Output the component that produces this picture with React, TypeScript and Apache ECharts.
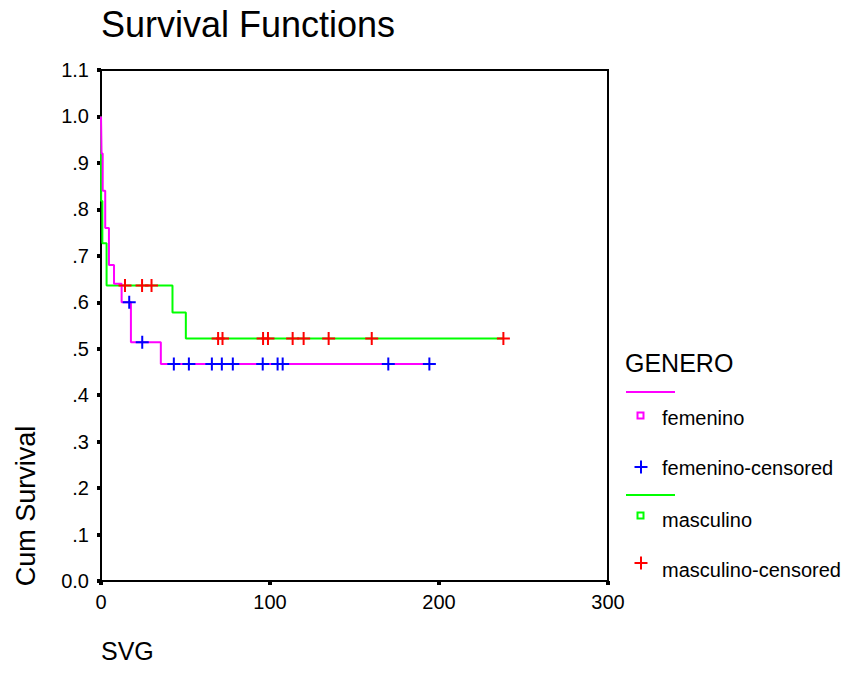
import React, { useEffect, useRef } from "react";
import * as echarts from "echarts";

const FONT = "'Liberation Sans', Arial, sans-serif";

// Kaplan-Meier step points (time, cumulative survival)
const femTimes = [0, 0.3, 1.0, 2.5, 4.7, 7.7, 12.2, 17.7, 35.4, 194.3];
const femSurv = [1.0, 0.92, 0.84, 0.76, 0.68, 0.64, 0.6, 0.514, 0.467, 0.467];

const mascTimes = [0, 0.1, 0.8, 3.3, 42.3, 50.2, 238.1];
const mascSurv = [1.0, 0.818, 0.727, 0.636, 0.578, 0.522, 0.522];

// Censored observations
const femCensTimes = [16.7, 24.4, 43.1, 52, 65.6, 71.5, 78, 95.7, 104.5, 107.5, 170, 194.3];
const femCensSurv = [0.6, 0.514, 0.467, 0.467, 0.467, 0.467, 0.467, 0.467, 0.467, 0.467, 0.467, 0.467];

const mascCensTimes = [14.2, 24.3, 29.9, 69.3, 71.9, 95.9, 98.8, 113.4, 119.9, 134.7, 160.2, 238.1];
const mascCensSurv = [0.636, 0.636, 0.636, 0.522, 0.522, 0.522, 0.522, 0.522, 0.522, 0.522, 0.522, 0.522];

const xTicks = [0, 100, 200, 300];
const legendTitle = "GENERO";
const legendLabels = ["femenino", "femenino-censored", "masculino", "masculino-censored"];

const MAGENTA = "#ff00ff";
const GREEN = "#00ff00";
const BLUE = "#0000ff";
const RED = "#ff0000";

const PLUS = "path://M5.5,0 H7.5 V5.5 H13 V7.5 H7.5 V13 H5.5 V7.5 H0 V5.5 H5.5 Z";

const zip = (a: number[], b: number[]) => a.map((v, i) => [v, b[i]]);

export default function App() {
  const ref = useRef<HTMLDivElement>(null);
  useEffect(() => {
    if (!ref.current) return;
    const chart = echarts.init(ref.current, null, { renderer: "svg" });
    const plusAt = (x: number, y: number, color: string, s: number) => [
      { type: "rect", shape: { x: x - s / 2, y: y - 1, width: s, height: 2 }, style: { fill: color } },
      { type: "rect", shape: { x: x - 1, y: y - s / 2, width: 2, height: s }, style: { fill: color } },
    ];
    chart.setOption({
      animation: false,
      backgroundColor: "#fff",
      title: {
        text: "Survival Functions",
        left: 96,
        top: 1,
        textStyle: { fontFamily: FONT, fontSize: 36, fontWeight: "normal", color: "#000" },
      },
      grid: {
        left: 101,
        right: 243,
        top: 70,
        bottom: 105,
        show: true,
        borderColor: "#000",
        borderWidth: 2,
        backgroundColor: "transparent",
      },
      xAxis: {
        type: "value",
        min: 0,
        max: 300,
        interval: 100,
        axisLine: { show: true, onZero: false, lineStyle: { color: "#000", width: 2 } },
        axisTick: { show: true, length: 4, lineStyle: { color: "#000", width: 4 } },
        axisLabel: {
          margin: 11,
          fontFamily: FONT,
          fontSize: 20,
          color: "#000",
          formatter: (v: number) => (xTicks.includes(v) ? String(v) : ""),
        },
        splitLine: { show: false },
      },
      yAxis: {
        type: "value",
        min: 0,
        max: 1.1,
        interval: 0.1,
        axisLine: { show: true, onZero: false, lineStyle: { color: "#000", width: 2 } },
        axisTick: { show: true, length: 4, lineStyle: { color: "#000", width: 4 } },
        axisLabel: {
          margin: 12,
          fontFamily: FONT,
          fontSize: 20,
          color: "#000",
          formatter: (v: number) => {
            if (Math.abs(v) < 1e-9) return "0.0";
            const s = v.toFixed(1);
            return v < 0.999 ? s.replace(/^0/, "") : s;
          },
        },
        splitLine: { show: false },
      },
      series: [
        {
          name: "masculino",
          type: "line",
          step: "end",
          data: zip(mascTimes, mascSurv),
          showSymbol: false,
          symbol: "none",
          lineStyle: { color: GREEN, width: 2 },
          z: 2,
        },
        {
          name: "femenino",
          type: "line",
          step: "end",
          data: zip(femTimes, femSurv),
          showSymbol: false,
          symbol: "none",
          lineStyle: { color: MAGENTA, width: 2 },
          z: 3,
        },
        {
          name: "masculino-censored",
          type: "scatter",
          data: zip(mascCensTimes, mascCensSurv),
          symbol: PLUS,
          symbolSize: 13,
          itemStyle: { color: RED, opacity: 1 },
          z: 4,
        },
        {
          name: "femenino-censored",
          type: "scatter",
          data: zip(femCensTimes, femCensSurv),
          symbol: PLUS,
          symbolSize: 13,
          itemStyle: { color: BLUE, opacity: 1 },
          z: 4,
        },
      ],
      graphic: [
        {
          type: "text",
          x: 26,
          y: 506,
          rotation: Math.PI / 2,
          style: {
            text: "Cum Survival",
            fontFamily: FONT,
            fontSize: 27,
            fill: "#000",
            align: "center",
            verticalAlign: "middle",
          },
        },
        {
          type: "text",
          x: 101,
          y: 651,
          style: {
            text: "SVG",
            fontFamily: FONT,
            fontSize: 25,
            fill: "#000",
            align: "left",
            verticalAlign: "middle",
          },
        },
        {
          type: "text",
          x: 625,
          y: 363,
          style: {
            text: legendTitle,
            fontFamily: FONT,
            fontSize: 25,
            fill: "#000",
            align: "left",
            verticalAlign: "middle",
          },
        },
        { type: "line", shape: { x1: 626, y1: 392, x2: 675, y2: 392 }, style: { stroke: MAGENTA, lineWidth: 2 } },
        { type: "rect", shape: { x: 637.5, y: 412.5, width: 6, height: 6 }, style: { fill: "none", stroke: MAGENTA, lineWidth: 2 } },
        ...plusAt(641, 467, BLUE, 13),
        { type: "line", shape: { x1: 626, y1: 495, x2: 675, y2: 495 }, style: { stroke: GREEN, lineWidth: 2 } },
        { type: "rect", shape: { x: 637.5, y: 512.5, width: 6, height: 6 }, style: { fill: "none", stroke: GREEN, lineWidth: 2 } },
        ...plusAt(641, 563, RED, 13),
        ...legendLabels.map((t, i) => ({
          type: "text",
          x: 662,
          y: [418, 468, 520, 570][i],
          style: {
            text: t,
            fontFamily: FONT,
            fontSize: 20,
            fill: "#000",
            align: "left",
            verticalAlign: "middle",
          },
        })),
      ],
    });
    return () => chart.dispose();
  }, []);
  return (
    <div
      ref={ref}
      style={{ position: "fixed", left: 0, top: 0, width: 851, height: 686, background: "#fff" }}
    />
  );
}
